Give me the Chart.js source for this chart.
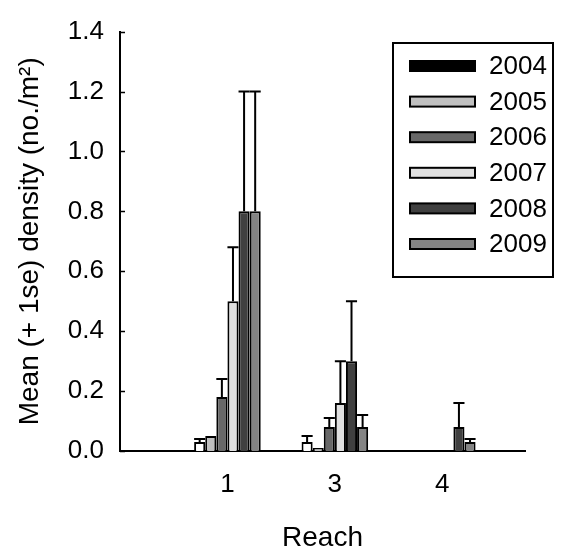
<!DOCTYPE html>
<html>
<head>
<meta charset="utf-8">
<script src="https://cdn.jsdelivr.net/npm/chart.js@4/dist/chart.umd.min.js"></script>
<style>
  html, body { margin: 0; padding: 0; background: #fff; }
  #wrap { width: 570px; height: 550px; }
</style>
</head>
<body>
<div id="wrap"><canvas id="densityChart" width="570" height="550"></canvas></div>
<script>
    // Reach categories and their positions on the x axis
    var reaches = ['1', '3', '4'];
    var reachPos = [1, 2, 3];

    var years = ['2004', '2005', '2006', '2007', '2008', '2009'];

    // mean density per reach
    var mean2004 = [0.03, 0.03, 0];
    var mean2005 = [0.05, 0.01, 0];
    var mean2006 = [0.18, 0.08, 0];
    var mean2007 = [0.50, 0.16, 0];
    var mean2008 = [0.80, 0.30, 0.08];
    var mean2009 = [0.80, 0.08, 0.03];

    // standard error per reach
    var se2004 = [0.01, 0.02, 0];
    var se2005 = [0, 0, 0];
    var se2006 = [0.06, 0.03, 0];
    var se2007 = [0.18, 0.14, 0];
    var se2008 = [0.40, 0.20, 0.08];
    var se2009 = [0.40, 0.04, 0.01];

    var yTicks = [0, 0.2, 0.4, 0.6, 0.8, 1.0, 1.2, 1.4];

    var barFill = ['#ffffff', '#c0c0c0', '#686868', '#e0e0e0', '#404040', '#848484'];
    var legendFill = ['#000000', '#c0c0c0', '#686868', '#e0e0e0', '#404040', '#848484'];

    var means = [mean2004, mean2005, mean2006, mean2007, mean2008, mean2009];
    var ses = [se2004, se2005, se2006, se2007, se2008, se2009];

    var FONT = '"Liberation Sans", Arial, sans-serif';
    var FS = 26;
    var TITLE_FS = 28;

    function toPoints(arr) {
        return arr.map(function (v, i) { return { x: reachPos[i], y: v }; });
    }

    /* ===== plugins ===== */

    // upper error bars (mean + 1se)
    var errorBars = {
        id: 'errorBars',
        afterDatasetsDraw: function (chart) {
            var ctx = chart.ctx;
            var y = chart.scales.y;
            ctx.save();
            ctx.strokeStyle = '#000';
            ctx.lineWidth = 2;
            chart.data.datasets.forEach(function (ds, di) {
                var meta = chart.getDatasetMeta(di);
                meta.data.forEach(function (bar, i) {
                    var se = ses[di][i];
                    if (!se) return;
                    var top = y.getPixelForValue(means[di][i] + se);
                    var half = bar.width / 2;
                    ctx.beginPath();
                    ctx.moveTo(bar.x, bar.y);
                    ctx.lineTo(bar.x, top);
                    ctx.moveTo(bar.x - half, top);
                    ctx.lineTo(bar.x + half, top);
                    ctx.stroke();
                });
            });
            ctx.restore();
        }
    };

    // tick marks pointing into the plot
    var innerTicks = {
        id: 'innerTicks',
        afterDraw: function (chart) {
            var ctx = chart.ctx;
            var y = chart.scales.y;
            var x0 = chart.chartArea.left;
            ctx.save();
            ctx.strokeStyle = '#000';
            ctx.lineWidth = 1.5;
            y.ticks.forEach(function (t) {
                var py = Math.round(y.getPixelForValue(t.value)) + 0.5;
                ctx.beginPath();
                ctx.moveTo(x0, py);
                ctx.lineTo(x0 + 5, py);
                ctx.stroke();
            });
            ctx.restore();
        }
    };

    // boxed legend inside the plot, top right
    var boxLegend = {
        id: 'boxLegend',
        afterDraw: function (chart) {
            var ctx = chart.ctx;
            ctx.save();
            ctx.strokeStyle = '#000';
            ctx.lineWidth = 2;
            ctx.strokeRect(393, 43, 160, 234);
            ctx.font = FS + 'px ' + FONT;
            ctx.textBaseline = 'middle';
            years.forEach(function (yr, i) {
                var cy = 66 + i * 35.6;
                ctx.fillStyle = legendFill[i];
                ctx.fillRect(410, cy - 5, 65, 10);
                ctx.strokeRect(410, cy - 5, 65, 10);
                ctx.fillStyle = '#000';
                ctx.fillText(yr, 489, cy + 1);
            });
            ctx.restore();
        }
    };

    /* ===== chart ===== */

    var datasets = years.map(function (yr, i) {
        return {
            label: yr,
            data: toPoints(means[i]),
            backgroundColor: barFill[i],
            borderColor: '#000',
            borderWidth: 2,
            borderSkipped: 'bottom',
            categoryPercentage: 0.62,
            barPercentage: 1.0
        };
    });

    new Chart(document.getElementById('densityChart'), {
        type: 'bar',
        data: { datasets: datasets },
        plugins: [errorBars, innerTicks, boxLegend],
        options: {
            responsive: false,
            animation: false,
            layout: { padding: { top: 20, right: 45, left: 0, bottom: 0 } },
            plugins: {
                legend: { display: false },
                tooltip: { enabled: false }
            },
            scales: {
                x: {
                    type: 'linear',
                    offset: false,
                    min: 0,
                    max: 3.77,
                    afterFit: function (s) { s.height = 99; },
                    afterBuildTicks: function (s) {
                        s.ticks = reachPos.map(function (v) { return { value: v }; });
                    },
                    grid: { display: false, drawTicks: false },
                    border: { display: true, color: '#000', width: 2 },
                    ticks: {
                        autoSkip: false,
                        padding: 18,
                        color: '#000',
                        font: { family: FONT, size: FS },
                        callback: function (v) {
                            var i = reachPos.indexOf(v);
                            return i >= 0 ? reaches[i] : '';
                        }
                    },
                    title: {
                        display: true,
                        text: 'Reach',
                        color: '#000',
                        padding: { top: 0, bottom: -2 },
                        font: { family: FONT, size: TITLE_FS, lineHeight: 1 }
                    }
                },
                y: {
                    min: 0,
                    max: 1.4,
                    afterFit: function (s) { s.width = 120; },
                    afterBuildTicks: function (s) {
                        s.ticks = yTicks.map(function (v) { return { value: v }; });
                    },
                    grid: { display: false, drawTicks: false },
                    border: { display: true, color: '#000', width: 2 },
                    ticks: {
                        padding: 16,
                        color: '#000',
                        font: { family: FONT, size: FS },
                        callback: function (v) { return Number(v).toFixed(1); }
                    },
                    title: {
                        display: true,
                        text: 'Mean (+ 1se) density (no./m²)',
                        color: '#000',
                        padding: { top: 16, bottom: 0 },
                        font: { family: FONT, size: TITLE_FS, lineHeight: 1 }
                    }
                }
            }
        }
    });
</script>
</body>
</html>
